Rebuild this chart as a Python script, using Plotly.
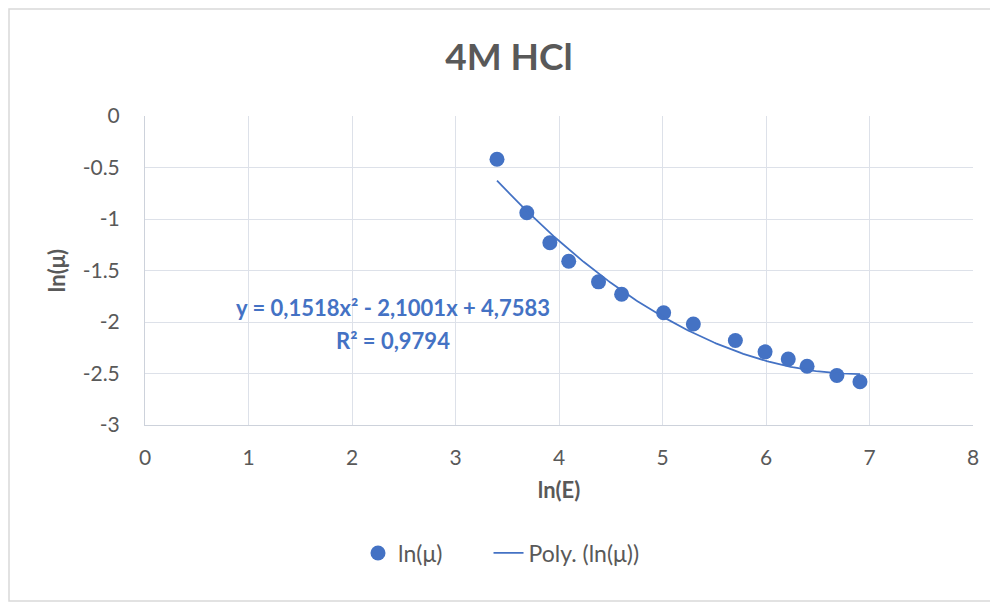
import numpy as np
import plotly.graph_objects as go

# Data
ln_E = [3.401, 3.689, 3.912, 4.094, 4.382, 4.605, 5.011, 5.298, 5.704, 5.991, 6.215, 6.397, 6.685, 6.908]
ln_mu = [-0.42, -0.94, -1.23, -1.41, -1.61, -1.73, -1.91, -2.02, -2.18, -2.29, -2.36, -2.43, -2.52, -2.58]
poly_coef = [0.1518, -2.1001, 4.7583]  # from displayed trendline equation
eq_text = "y = 0,1518x² - 2,1001x + 4,7583"
r2_text = "R² = 0,9794"
title_text = "4M HCl"
series_names = ["ln(μ)", "Poly. (ln(μ))"]
y_tickvals = [0, -0.5, -1, -1.5, -2, -2.5, -3]
y_ticktext = ["0", "-0.5", "-1", "-1.5", "-2", "-2.5", "-3"]
x_tickvals = [0, 1, 2, 3, 4, 5, 6, 7, 8]

BLUE = "#4472C4"
GRAY = "#595959"
GRID = "#dde1e9"
FONT = "Lato, 'Open Sans', sans-serif"

# page body has an 8px margin; figure is sized to fit the window
W, H = 990, 597
L, T = 137, 108
PW, PH = 828, 309


def px(sx):  # screen x -> paper x
    return (sx - 8 - L) / PW


def py(sy):  # screen y -> paper y
    return (T + PH - (sy - 8)) / PH


xs = np.linspace(min(ln_E), max(ln_E), 200)
ys = np.polyval(poly_coef, xs)

fig = go.Figure()
fig.add_trace(go.Scatter(x=ln_E, y=ln_mu, mode="markers",
                         name=series_names[0] + "\u00a0" * 7,
                         marker=dict(color=BLUE, size=15)))
fig.add_trace(go.Scatter(x=xs, y=ys, mode="lines", name=series_names[1],
                         line=dict(color=BLUE, width=1.75)))

fig.update_layout(
    width=W, height=H,
    margin=dict(l=L, r=W - L - PW, t=T, b=H - T - PH, autoexpand=False),
    paper_bgcolor="white", plot_bgcolor="white",
    font=dict(family=FONT, color=GRAY, size=21),
    title=dict(text="<b>" + title_text + "</b>", x=(509 - 8) / W, xanchor="center",
               y=1 - (57 - 8) / H, yanchor="middle",
               font=dict(size=37, color=GRAY, family=FONT)),
    xaxis=dict(range=[0, 8], tickvals=x_tickvals, showgrid=True, gridcolor=GRID, gridwidth=1,
               zeroline=False, showline=True, linecolor="#cdd2db", linewidth=1, mirror=False, ticks="",
               tickfont=dict(size=21, color=GRAY), ticklabelstandoff=14,
               title=dict(text="<b>ln(E)</b>", font=dict(size=22, color=GRAY), standoff=14)),
    yaxis=dict(range=[-3, 0], tickvals=y_tickvals, ticktext=y_ticktext, showgrid=True,
               gridcolor=GRID, gridwidth=1,
               zeroline=False, showline=True, linecolor="#cdd2db", linewidth=1, ticks="",
               tickfont=dict(size=21, color=GRAY), ticklabelstandoff=20,
               title=dict(text="<b>ln(μ)</b>", font=dict(size=22, color=GRAY), standoff=10)),
    legend=dict(orientation="h", x=px(358), xanchor="left", y=py(553), yanchor="middle",
                font=dict(size=23, color=GRAY), bgcolor="rgba(0,0,0,0)"),
    showlegend=True,
)

fig.add_annotation(xref="paper", yref="paper", x=px(393), y=py(307),
                   text="<b>" + eq_text + "</b>", showarrow=False,
                   font=dict(size=22, color=BLUE, family=FONT), xanchor="center", yanchor="middle")
fig.add_annotation(xref="paper", yref="paper", x=px(393), y=py(340),
                   text="<b>" + r2_text + "</b>", showarrow=False,
                   font=dict(size=22, color=BLUE, family=FONT), xanchor="center", yanchor="middle")

fig.add_shape(type="rect", xref="paper", yref="paper",
              x0=px(9), x1=px(996), y0=py(601), y1=py(9),
              line=dict(color="#d9d9d9", width=1.5), fillcolor="rgba(0,0,0,0)", layer="below")

fig.write_html("out.html")
